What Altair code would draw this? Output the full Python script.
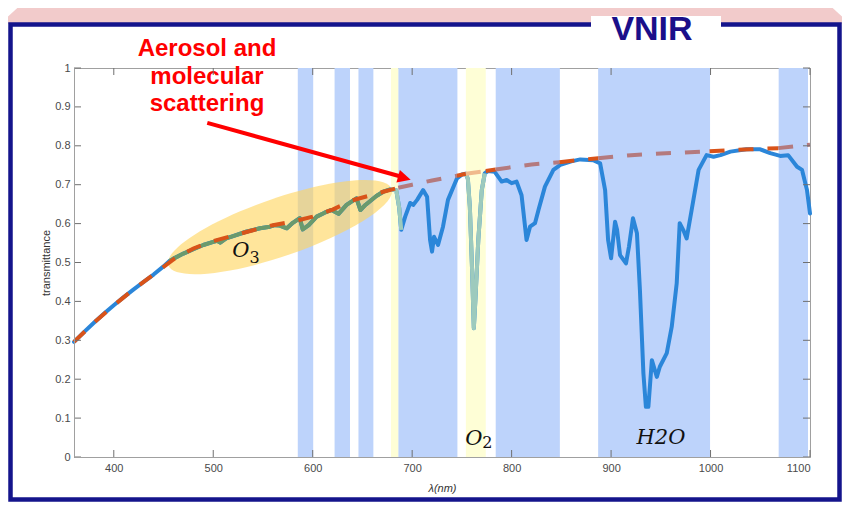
import altair as alt
import pandas as pd

# ---------------- data ----------------
wavelength = [360, 370, 380, 390, 400, 410, 420, 430, 440, 450, 456, 460, 470, 480, 490, 500, 504, 507, 513, 520,
              533, 547, 557, 562, 567, 574, 580, 587, 590, 596, 604, 612, 619, 626, 634, 644, 648, 653, 664, 671,
              678, 684, 687, 689, 693, 698, 701, 705, 711, 715, 718, 720, 722, 726, 731, 736, 745, 750, 754, 756,
              758, 760, 762, 763.5, 766.5, 770, 773, 776, 783, 790, 795, 800, 805, 810, 815, 818.5, 823.5, 827, 833.5, 842,
              849, 860, 869, 882, 889, 894, 897, 900, 904, 906, 909, 915, 918, 922, 926, 929, 932.5, 935, 937.5, 941,
              946, 949, 956, 961, 966, 969, 972.5, 976, 981, 988, 996, 1003, 1010, 1020, 1036, 1050, 1060, 1070, 1078, 1087,
              1092, 1097, 1100]
transmittance = [0.296, 0.321, 0.345, 0.368, 0.390, 0.411, 0.431, 0.450, 0.469, 0.490, 0.504, 0.510, 0.523, 0.534, 0.545, 0.553, 0.556, 0.551, 0.562, 0.568,
                 0.579, 0.588, 0.592, 0.596, 0.595, 0.588, 0.602, 0.614, 0.585, 0.596, 0.618, 0.628, 0.635, 0.625, 0.648, 0.665, 0.635, 0.648, 0.671, 0.682,
                 0.688, 0.686, 0.640, 0.584, 0.618, 0.653, 0.648, 0.661, 0.686, 0.669, 0.558, 0.528, 0.566, 0.545, 0.592, 0.661, 0.716, 0.726, 0.728, 0.715,
                 0.643, 0.500, 0.331, 0.400, 0.558, 0.686, 0.729, 0.735, 0.733, 0.708, 0.712, 0.704, 0.708, 0.673, 0.558, 0.592, 0.601, 0.635, 0.695, 0.738,
                 0.751, 0.760, 0.765, 0.763, 0.755, 0.686, 0.558, 0.511, 0.605, 0.584, 0.519, 0.498, 0.541, 0.614, 0.575, 0.429, 0.215, 0.129, 0.129, 0.249,
                 0.206, 0.232, 0.267, 0.335, 0.447, 0.601, 0.584, 0.562, 0.635, 0.738, 0.776, 0.772, 0.776, 0.785, 0.791, 0.791, 0.781, 0.774, 0.776, 0.746,
                 0.738, 0.686, 0.626]

# scattering continuum (dashed)
cont_wavelength = [360, 380, 400, 420, 440, 460, 480, 500, 520, 540, 560, 580, 600, 620, 640, 660, 680, 686, 700, 720,
                   745, 754, 774, 784, 800, 820, 848, 870, 887, 920, 950, 999, 1020, 1040, 1068, 1085, 1100]
cont_transmittance = [0.296, 0.345, 0.390, 0.431, 0.469, 0.508, 0.536, 0.555, 0.569, 0.583, 0.596, 0.605, 0.618, 0.636, 0.660, 0.674, 0.688, 0.692, 0.700, 0.711,
                      0.723, 0.728, 0.735, 0.739, 0.745, 0.752, 0.758, 0.764, 0.768, 0.776, 0.780, 0.786, 0.789, 0.791, 0.794, 0.799, 0.803]
cont_seg_start = [360, 686, 745, 754, 774, 784, 848, 887, 999, 1068]
cont_seg_end = [686, 745, 754, 774, 784, 848, 887, 999, 1068, 1100]
cont_seg_kind = ["open", "band", "open", "o2", "open", "band", "open", "band", "open", "band"]

# absorption bands
blue_band_start = [585, 622, 646, 686, 784, 887, 1068.5]
blue_band_end = [600.5, 637.5, 661, 745.5, 848.5, 999.5, 1098]
yellow_band_start = [678.7, 754]
yellow_band_end = [686, 774]

# curve portions seen through the O3 ellipse / O2 bands
green_range = [456, 678]
teal_ranges_start = [678, 754]
teal_ranges_end = [689, 774]

x_ticks = [400, 500, 600, 700, 800, 900, 1000, 1100]
y_ticks = [0, 0.1, 0.2, 0.3, 0.4, 0.5, 0.6, 0.7, 0.8, 0.9, 1]

# ---------------- styling ----------------
W, H = 736, 389
BLUE = "#2b86d9"
ORANGE = "#d95319"
GREEN = "#6b9a6c"
TEAL = "#9dcabd"
MAUVE = "#b47a7e"
LIGHT_ORANGE = "#f0b98c"
BAND_BLUE = "#bdd3fb"
BAND_YELLOW = "#fefed6"
NAVY = "#14148c"

xscale = alt.Scale(domain=[360, 1100], nice=False, zero=False)
yscale = alt.Scale(domain=[0, 1], nice=False, zero=False)
xaxis = alt.Axis(values=x_ticks, ticks=False, labelPadding=5, format="d", title="λ(nm)", titleFontStyle="italic",
                 titleFontWeight="normal", titleFontSize=11, titlePadding=9, titleColor="#333333",
                 domainColor="#a0a0a0", zindex=1, grid=False)
yaxis = alt.Axis(values=y_ticks, ticks=False, labelPadding=4, format="~g", title="transmittance",
                 titleFontWeight="normal", titleFontSize=11, titlePadding=3, titleColor="#333333",
                 domainColor="#a0a0a0", zindex=1, grid=False)


def X(field="nm"):
    return alt.X(f"{field}:Q", scale=xscale, axis=xaxis)


def Y(field="val"):
    return alt.Y(f"{field}:Q", scale=yscale, axis=yaxis)


curve = pd.DataFrame({"nm": wavelength, "val": transmittance})
one = pd.DataFrame({"k": [0]})

# ---------- slide decoration (frame, header) ----------
trapezoid = alt.Chart(one).mark_point(
    shape="M -48 -68 L 750 -68 L 776 -44 L -74 -44 Z", size=4, filled=True, opacity=1,
    color="#f2cbcb", strokeWidth=0
).encode(x=alt.value(0), y=alt.value(0))

frame = alt.Chart(one).mark_rect(fillOpacity=0, stroke=NAVY, strokeWidth=4.5).encode(
    x=alt.value(-63.5), x2=alt.value(765.5), y=alt.value(-43.5), y2=alt.value(431.5))

gap = alt.Chart(one).mark_rect(color="white").encode(
    x=alt.value(517), x2=alt.value(647), y=alt.value(-52), y2=alt.value(-35))

vnir = alt.Chart(one).mark_text(text="VNIR", font="Liberation Sans", fontWeight="bold", fontSize=34,
                                color="#1a0f8a", align="center", baseline="alphabetic").encode(
    x=alt.value(578), y=alt.value(-28))

# ---------- bands ----------
bb = pd.DataFrame({"nm": blue_band_start, "nm2": blue_band_end})
blue_bands = alt.Chart(bb).mark_rect(color=BAND_BLUE).encode(
    x=X(), x2="nm2:Q", y=alt.value(0), y2=alt.value(H))
yb = pd.DataFrame({"nm": yellow_band_start, "nm2": yellow_band_end})
yellow_bands = alt.Chart(yb).mark_rect(color=BAND_YELLOW).encode(
    x=X(), x2="nm2:Q", y=alt.value(0), y2=alt.value(H))

# ---------- O3 ellipse ----------
ell = pd.DataFrame({"nm": [567.1], "val": [0.591]})
ellipse = alt.Chart(ell).mark_point(
    shape="M -1 0 A 1 0.246 0 1 1 1 0 A 1 0.246 0 1 1 -1 0 Z", size=236 * 236, filled=True,
    color="#ffd55e", opacity=0.62, angle=341.1, strokeWidth=0
).encode(x=X(), y=Y())

# ---------- curve ----------
main_line = alt.Chart(curve).mark_line(color=BLUE, strokeWidth=4, strokeCap="round", strokeJoin="round").encode(
    x=X(), y=Y())
green_df = curve[(curve.nm >= green_range[0]) & (curve.nm <= green_range[1])]
green_line = alt.Chart(green_df).mark_line(color=GREEN, strokeWidth=4, strokeJoin="round").encode(x=X(), y=Y())
teal_parts = []
for i, (a, b) in enumerate(zip(teal_ranges_start, teal_ranges_end)):
    d = curve[(curve.nm >= a) & (curve.nm <= b)].copy()
    d["seg"] = i
    teal_parts.append(d)
teal_df = pd.concat(teal_parts)
teal_line = alt.Chart(teal_df).mark_line(color=TEAL, strokeWidth=4, strokeJoin="round").encode(
    x=X(), y=Y(), detail="seg:N")

# ---------- continuum (dashed) ----------
kind_color = {"open": ORANGE, "band": MAUVE, "o2": LIGHT_ORANGE}
cont = pd.DataFrame({"nm": cont_wavelength, "val": cont_transmittance})
parts = []
for i, (a, b, k) in enumerate(zip(cont_seg_start, cont_seg_end, cont_seg_kind)):
    d = cont[(cont.nm >= a) & (cont.nm <= b)].copy()
    d["seg"] = i
    d["col"] = kind_color[k]
    parts.append(d)
cont_df = pd.concat(parts)
cont_line = alt.Chart(cont_df).mark_line(strokeWidth=4, strokeDash=[15, 14]).encode(
    x=X(), y=Y(), color=alt.Color("col:N", scale=None), detail="seg:N")

# ---------- annotations ----------
arrow_df = pd.DataFrame({"nm": [494.0], "val": [0.859], "nm2": [688.5], "val2": [0.721]})
arrow_line = alt.Chart(arrow_df).mark_rule(color="#ff0000", strokeWidth=4).encode(
    x=X(), y=Y(), x2="nm2:Q", y2="val2:Q")
head_df = pd.DataFrame({"nm": [698.5], "val": [0.713]})
arrow_head = alt.Chart(head_df).mark_point(
    shape="M 0 0 L -2 -1 L -2 1 Z", size=169, filled=True, opacity=1, color="#ff0000",
    angle=15.6, strokeWidth=0).encode(x=X(), y=Y())

aer_df = pd.DataFrame({"nm": [493.7, 493.7, 493.7], "val": [1.031, 0.959, 0.889],
                       "txt": ["Aerosol and", "molecular", "scattering"]})
aer_text = alt.Chart(aer_df).mark_text(font="Liberation Sans", fontWeight="bold", fontSize=24, color="#ff0000",
                                       align="center", baseline="alphabetic").encode(
    x=X(), y=Y(), text="txt:N")

mol_df = pd.DataFrame({"nm": [519.0, 753.3, 925.6], "val": [0.515, 0.031, 0.033], "txt": ["O", "O", "H2O"]})
mol_text = alt.Chart(mol_df).mark_text(font="DejaVu Serif", fontStyle="italic", fontSize=21, color="#111111",
                                       align="left", baseline="alphabetic").encode(
    x=X(), y=Y(), text="txt:N")
sub_df = pd.DataFrame({"nm": [536.5, 770.5], "val": [0.499, 0.022], "txt": ["3", "2"]})
sub_text = alt.Chart(sub_df).mark_text(font="DejaVu Serif", fontSize=16, color="#111111",
                                       align="left", baseline="alphabetic").encode(
    x=X(), y=Y(), text="txt:N")

# ---------- inward tick marks (box style) ----------
xt = pd.DataFrame({"nm": x_ticks})
yt = pd.DataFrame({"val": y_ticks})
TICK = "#707070"
ticks_bottom = alt.Chart(xt).mark_rule(color=TICK, strokeWidth=1).encode(x=X(), y=alt.value(H), y2=alt.value(H - 7))
ticks_top = alt.Chart(xt).mark_rule(color=TICK, strokeWidth=1).encode(x=X(), y=alt.value(0), y2=alt.value(7))
ticks_left = alt.Chart(yt).mark_rule(color=TICK, strokeWidth=1).encode(y=Y(), x=alt.value(0), x2=alt.value(7))
ticks_right = alt.Chart(yt).mark_rule(color=TICK, strokeWidth=1).encode(y=Y(), x=alt.value(W), x2=alt.value(W - 7))

chart = alt.layer(
    trapezoid, frame, gap, vnir,
    blue_bands, yellow_bands, ellipse,
    main_line, green_line, teal_line, cont_line,
    arrow_line, arrow_head, aer_text, mol_text, sub_text,
    ticks_bottom, ticks_top, ticks_left, ticks_right,
).properties(
    width=W, height=H,
    padding={"left": 66, "top": 60, "right": 32, "bottom": 45},
    autosize=alt.AutoSizeParams(type="none"),
    background="white",
).configure_view(
    stroke="#a0a0a0", strokeWidth=1
).configure_axis(
    labelFont="Liberation Sans", labelFontSize=11, labelColor="#4a4a4a",
    titleFont="Liberation Sans",
)

chart.save("out.html", embed_options={"renderer": "svg", "actions": False})
